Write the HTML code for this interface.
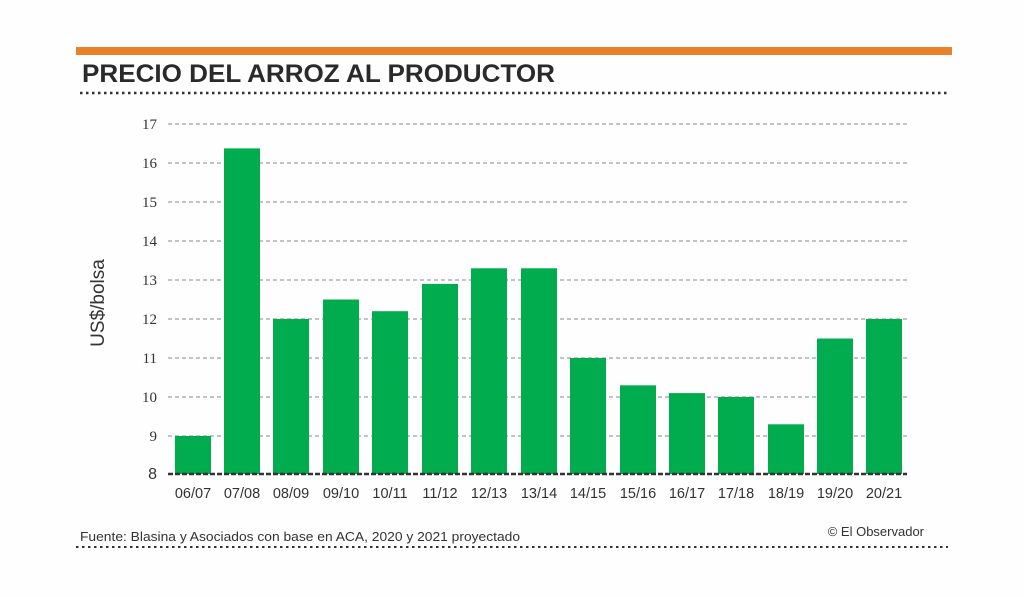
<!DOCTYPE html>
<html><head><meta charset="utf-8"><style>
body{margin:0;background:#fff;}
svg{display:block;}
</style></head><body>
<svg width="1024" height="597" viewBox="0 0 1024 597" xmlns="http://www.w3.org/2000/svg" font-family="Liberation Sans, sans-serif">
<rect x="0" y="0" width="1024" height="597" fill="#fefefe"/>
<rect x="76" y="47" width="876" height="8" fill="#e8822a"/>
<text x="82" y="82" font-size="25" font-weight="bold" fill="#2a2a2a" textLength="473" lengthAdjust="spacingAndGlyphs">PRECIO DEL ARROZ AL PRODUCTOR</text>
<line x1="80" y1="93" x2="950" y2="93" stroke="#333" stroke-width="2.5" stroke-dasharray="2.5,3.5"/>
<g stroke="#888" stroke-width="1" stroke-dasharray="4,3">
<line x1="168" y1="124" x2="907" y2="124"/>
<line x1="168" y1="163" x2="907" y2="163"/>
<line x1="168" y1="202" x2="907" y2="202"/>
<line x1="168" y1="241" x2="907" y2="241"/>
<line x1="168" y1="280" x2="907" y2="280"/>
<line x1="168" y1="319" x2="907" y2="319"/>
<line x1="168" y1="358" x2="907" y2="358"/>
<line x1="168" y1="397" x2="907" y2="397"/>
<line x1="168" y1="436" x2="907" y2="436"/>
</g>
<g font-family="Liberation Serif, serif" font-size="15" fill="#333" text-anchor="end">
<text x="157" y="129">17</text><text x="157" y="168">16</text><text x="157" y="207">15</text>
<text x="157" y="246">14</text><text x="157" y="285">13</text><text x="157" y="324">12</text>
<text x="157" y="363">11</text><text x="157" y="402">10</text><text x="157" y="441">9</text>
</g>
<text x="157" y="479" font-size="16" fill="#333" text-anchor="end">8</text>
<text transform="translate(104,303) rotate(-90)" font-size="19" fill="#333" text-anchor="middle">US$/bolsa</text>
<g fill="#00ac4e">
<rect x="175" y="436" width="36" height="38"/>
<rect x="224" y="148.4" width="36" height="325.6"/>
<rect x="273" y="319" width="36" height="155"/>
<rect x="323" y="299.5" width="36" height="174.5"/>
<rect x="372" y="311.2" width="36" height="162.8"/>
<rect x="422" y="283.9" width="36" height="190.1"/>
<rect x="471" y="268.3" width="36" height="205.7"/>
<rect x="521" y="268.3" width="36" height="205.7"/>
<rect x="570" y="358" width="36" height="116"/>
<rect x="620" y="385.3" width="36" height="88.7"/>
<rect x="669" y="393.1" width="36" height="80.9"/>
<rect x="718" y="397" width="36" height="77"/>
<rect x="768" y="424.3" width="36" height="49.7"/>
<rect x="817" y="338.5" width="36" height="135.5"/>
<rect x="866" y="319" width="36" height="155"/>
</g>
<line x1="168" y1="474" x2="907" y2="474" stroke="#333" stroke-width="2.5" stroke-dasharray="5,2"/>
<g font-size="14.5" fill="#333" text-anchor="middle">
<text x="193" y="498">06/07</text><text x="242" y="498">07/08</text><text x="291" y="498">08/09</text>
<text x="341" y="498">09/10</text><text x="390" y="498">10/11</text><text x="440" y="498">11/12</text>
<text x="489" y="498">12/13</text><text x="539" y="498">13/14</text><text x="588" y="498">14/15</text>
<text x="638" y="498">15/16</text><text x="687" y="498">16/17</text><text x="736" y="498">17/18</text>
<text x="786" y="498">18/19</text><text x="835" y="498">19/20</text><text x="884" y="498">20/21</text>
</g>
<text x="80" y="541" font-size="13" fill="#333" textLength="440" lengthAdjust="spacingAndGlyphs">Fuente: Blasina y Asociados con base en ACA, 2020 y 2021 proyectado</text>
<text x="924" y="536" font-size="13" fill="#333" text-anchor="end">© El Observador</text>
<line x1="76" y1="547" x2="948" y2="547" stroke="#333" stroke-width="2" stroke-dasharray="2.5,3.5"/>
</svg>
</body></html>
